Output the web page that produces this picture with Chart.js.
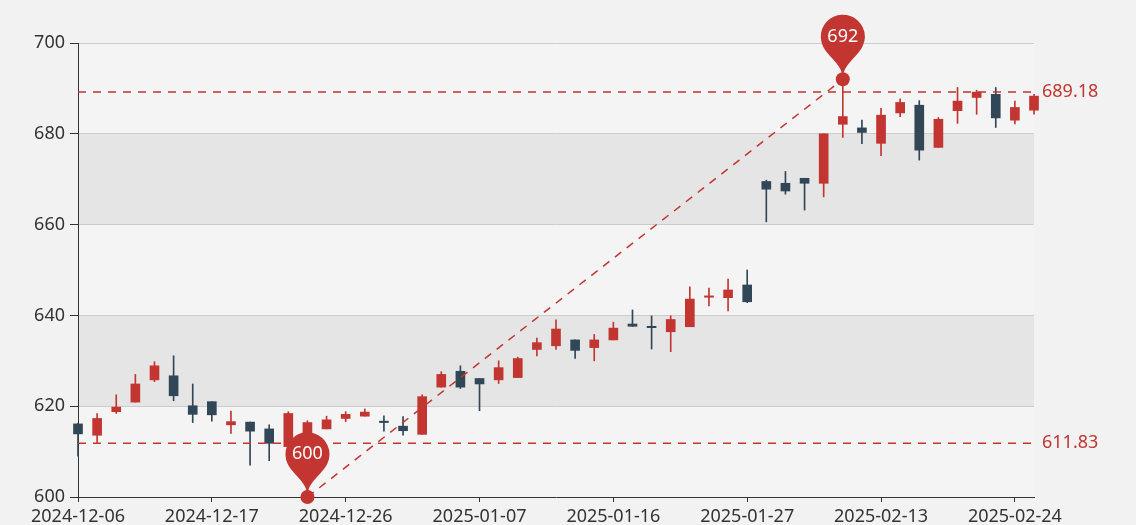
<!DOCTYPE html>
<html>
<head>
<meta charset="utf-8">
<script src="https://cdn.jsdelivr.net/npm/chart.js@4.4.1/dist/chart.umd.min.js"></script>
<style>
  html, body { margin: 0; padding: 0; background: #f2f2f2; }
  #wrap { width: 1136px; height: 525px; position: relative; }
</style>
</head>
<body>
<div id="wrap"><canvas id="kline"></canvas></div>
<script>
// trading days (A-share calendar, spring festival gap)
var dates = ['2024-12-06', '2024-12-09', '2024-12-10', '2024-12-11', '2024-12-12', '2024-12-13',
    '2024-12-16', '2024-12-17', '2024-12-18', '2024-12-19', '2024-12-20', '2024-12-23', '2024-12-24',
    '2024-12-25', '2024-12-26', '2024-12-27', '2024-12-30', '2024-12-31', '2025-01-02', '2025-01-03',
    '2025-01-06', '2025-01-07', '2025-01-08', '2025-01-09', '2025-01-10', '2025-01-13', '2025-01-14',
    '2025-01-15', '2025-01-16', '2025-01-17', '2025-01-20', '2025-01-21', '2025-01-22', '2025-01-23',
    '2025-01-24', '2025-01-27', '2025-02-05', '2025-02-06', '2025-02-07', '2025-02-10', '2025-02-11',
    '2025-02-12', '2025-02-13', '2025-02-14', '2025-02-17', '2025-02-18', '2025-02-19', '2025-02-20',
    '2025-02-21', '2025-02-24', '2025-02-25'];

var open = [616.1, 613.6, 618.8, 620.9, 625.8, 626.7, 620.1, 621.0, 615.9, 616.5, 615.0, 611.1, 614.1,
    615.0, 617.3, 617.8, 616.7, 615.6, 613.8, 624.2, 627.7, 626.1, 625.8, 626.3, 632.5, 633.3, 634.6,
    632.9, 634.6, 638.1, 637.6, 636.4, 637.5, 644.0, 643.9, 646.7, 669.5, 669.1, 670.2, 669.1, 682.1,
    681.3, 677.9, 684.6, 686.3, 677.0, 685.1, 688.0, 688.7, 683.0, 685.2];
var close = [613.9, 617.3, 619.8, 624.9, 628.9, 622.3, 618.2, 618.1, 616.6, 614.5, 611.83, 618.4, 616.4,
    617.0, 618.2, 618.7, 616.4, 614.6, 622.1, 627.0, 624.2, 624.9, 628.5, 630.5, 634.0, 637.0, 632.3,
    634.6, 637.2, 637.6, 637.3, 639.1, 643.6, 644.3, 645.6, 643.0, 667.8, 667.4, 669.1, 680.0, 683.8,
    680.3, 684.1, 686.9, 676.4, 683.2, 687.2, 689.18, 683.5, 685.8, 688.3];
var low = [609.0, 611.8, 618.4, 620.9, 625.4, 621.2, 616.4, 616.7, 614.0, 607.0, 608.0, 611.0, 600.0,
    615.0, 616.6, 617.8, 614.5, 613.6, 613.8, 624.2, 623.9, 619.0, 625.0, 626.3, 631.1, 632.5, 630.5,
    630.0, 634.6, 637.6, 632.6, 632.0, 637.5, 642.1, 641.0, 642.8, 660.6, 666.7, 663.2, 666.1, 679.2,
    677.8, 675.2, 683.8, 674.2, 677.0, 682.3, 684.3, 681.4, 682.2, 684.3];
var high = [616.3, 618.4, 622.5, 627.0, 629.8, 631.1, 624.9, 621.0, 618.9, 616.5, 615.9, 618.8, 616.8,
    617.8, 618.8, 619.4, 617.9, 617.7, 622.5, 627.6, 628.9, 626.1, 630.0, 630.8, 635.0, 639.0, 634.6,
    635.8, 638.5, 641.2, 639.9, 639.9, 646.3, 646.0, 648.0, 650.0, 669.8, 671.7, 670.2, 680.0, 692.0,
    683.0, 685.6, 687.7, 687.3, 683.6, 690.2, 689.6, 690.2, 687.2, 688.7];

var yTicks = [600, 620, 640, 660, 680, 700];

var upColor = '#c23531';
var downColor = '#314656';
var FONT = '"Noto Sans", "DejaVu Sans", sans-serif';

var bodies = [];
var wicks = [];
var colors = [];
for (var i = 0; i < dates.length; i++) {
    bodies.push([open[i], close[i]]);
    wicks.push([low[i], high[i]]);
    colors.push(close[i] >= open[i] ? upColor : downColor);
}

// min / max markers
var minIdx = 0, maxIdx = 0;
for (var j = 0; j < dates.length; j++) {
    if (low[j] < low[minIdx]) minIdx = j;
    if (high[j] > high[maxIdx]) maxIdx = j;
}
var maxClose = Math.max.apply(null, close);
var minClose = Math.min.apply(null, close);

function drawPin(c, x, y, text) {
    var r = 22, h = 74;
    var dy = r * r / (h - r);
    var cy = y - h + r + dy;
    var angle = Math.asin(dy / r);
    var dx = Math.cos(angle) * r;
    var tanX = Math.sin(angle), tanY = Math.cos(angle);
    var cp = r * 0.6, cp2 = r * 0.7;
    c.beginPath();
    c.moveTo(x - dx, cy + dy);
    c.arc(x, cy, r, Math.PI - angle, Math.PI * 2 + angle);
    c.bezierCurveTo(x + dx - tanX * cp, cy + dy + tanY * cp, x, y - cp2, x, y);
    c.bezierCurveTo(x, y - cp2, x - dx + tanX * cp, cy + dy + tanY * cp, x - dx, cy + dy);
    c.closePath();
    c.fillStyle = upColor;
    c.fill();
    c.fillStyle = '#fff';
    c.font = '18px ' + FONT;
    c.textAlign = 'center';
    c.textBaseline = 'middle';
    c.fillText(text, x, cy);
}

var marks = {
    id: 'marks',
    beforeDraw: function (chart) {
        var c = chart.ctx, a = chart.chartArea, ys = chart.scales.y;
        c.save();
        for (var k = 0; k < yTicks.length - 1; k++) {
            var t = ys.getPixelForValue(yTicks[k + 1]);
            var b = ys.getPixelForValue(yTicks[k]);
            c.fillStyle = k % 2 === 0 ? 'rgba(250,250,250,0.3)' : 'rgba(200,200,200,0.3)';
            c.fillRect(a.left, t, a.right - a.left, b - t);
        }
        c.restore();
    },
    afterDatasetsDraw: function (chart) {
        var c = chart.ctx, a = chart.chartArea, xs = chart.scales.x, ys = chart.scales.y;
        c.save();
        c.strokeStyle = upColor;
        c.lineWidth = 1.5;
        c.setLineDash([8, 7]);
        [maxClose, minClose].forEach(function (v) {
            var py = ys.getPixelForValue(v);
            c.beginPath();
            c.moveTo(a.left, py);
            c.lineTo(a.right, py);
            c.stroke();
            c.fillStyle = upColor;
            c.font = '18px ' + FONT;
            c.textAlign = 'left';
            c.textBaseline = 'middle';
            c.fillText(v.toFixed(2), a.right + 8, py);
        });
        var x1 = xs.getPixelForValue(minIdx), y1 = ys.getPixelForValue(low[minIdx]);
        var x2 = xs.getPixelForValue(maxIdx), y2 = ys.getPixelForValue(high[maxIdx]);
        c.beginPath();
        c.moveTo(x1, y1);
        c.lineTo(x2, y2);
        c.stroke();
        c.setLineDash([]);
        drawPin(c, x1, y1, String(Math.round(low[minIdx])));
        drawPin(c, x2, y2, String(Math.round(high[maxIdx])));
        c.fillStyle = upColor;
        [[x1, y1], [x2, y2]].forEach(function (p) {
            c.beginPath();
            c.arc(p[0], p[1], 7, 0, Math.PI * 2);
            c.fill();
        });
        c.restore();
    }
};

var ctx = document.getElementById('kline').getContext('2d');
var kline = new Chart(ctx, {
    type: 'bar',
    data: {
        labels: dates,
        datasets: [{
            label: 'body',
            data: bodies,
            backgroundColor: colors,
            borderWidth: 0,
            barThickness: 9,
            grouped: false,
            clip: false
        }, {
            label: 'wick',
            data: wicks,
            backgroundColor: colors,
            borderWidth: 0,
            barThickness: 1,
            grouped: false,
            clip: false
        }]
    },
    options: {
        responsive: true,
        maintainAspectRatio: false,
        animation: false,
        layout: { padding: { left: 0, right: 102, top: 43, bottom: 0 } },
        plugins: { legend: { display: false }, tooltip: { enabled: false } },
        scales: {
            x: {
                offset: false,
                afterFit: function (s) { s.height = 28; },
                grid: { offset: false, drawOnChartArea: false, tickLength: 5, tickColor: '#333' },
                border: { color: '#333' },
                ticks: {
                    autoSkip: false,
                    maxRotation: 0,
                    padding: 4,
                    color: '#333',
                    font: { size: 18, family: FONT },
                    callback: function (v, i) { return i % 7 === 0 ? dates[i] : null; }
                }
            },
            y: {
                min: 600,
                max: 700,
                afterFit: function (s) { s.width = 78; },
                grid: {
                    color: function (c) { return c.tick && c.tick.value === 600 ? 'rgba(0,0,0,0)' : '#ccc'; },
                    tickLength: 8,
                    tickColor: '#333'
                },
                border: { color: '#333' },
                ticks: {
                    stepSize: 20,
                    padding: 5,
                    color: '#333',
                    font: { size: 18, family: FONT }
                }
            }
        }
    },
    plugins: [marks]
});
</script>
</body>
</html>
